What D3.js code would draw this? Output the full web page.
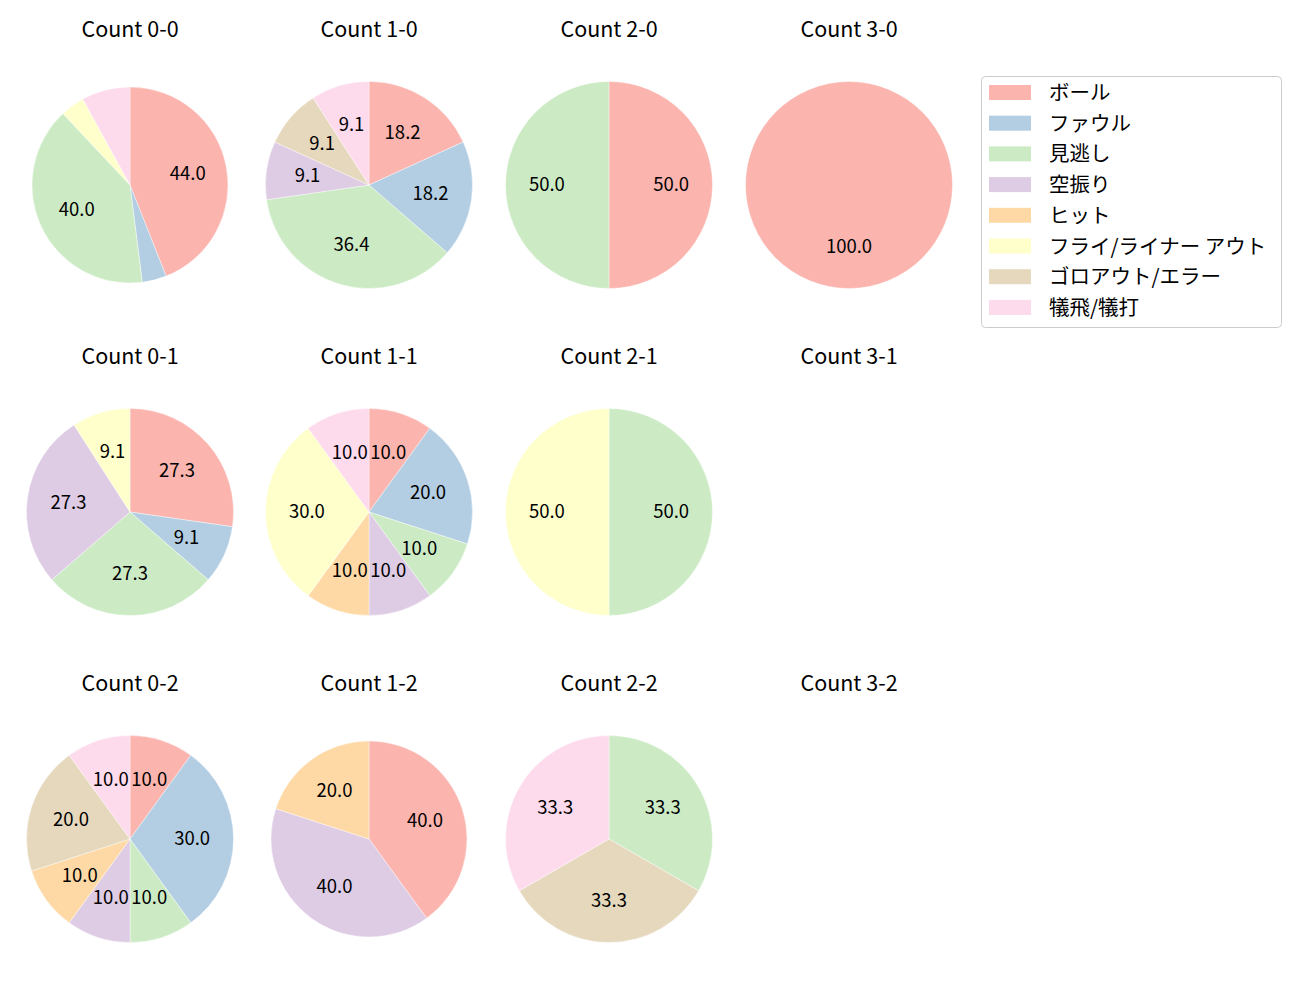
<!DOCTYPE html>
<html>
<head>
<meta charset="utf-8">
<script src="https://cdn.jsdelivr.net/npm/d3@7"></script>
<style>
  body { margin: 0; background: #fff; }
  text { font-family: "Noto Sans CJK JP", "DejaVu Sans", sans-serif; fill: #000; }
</style>
</head>
<body>
<script>
// categories (legend order)
const categories = ["ボール", "ファウル", "見逃し", "空振り", "ヒット", "フライ/ライナー アウト", "ゴロアウト/エラー", "犠飛/犠打"];
const colors = ["#fbb4ae", "#b3cde3", "#ccebc5", "#decbe4", "#fed9a6", "#ffffcc", "#e5d8bd", "#fddaec"];

// counts per category for each ball-strike count
const count00 = [11, 1, 10, 0, 0, 1, 0, 2];
const count10 = [2, 2, 4, 1, 0, 0, 1, 1];
const count20 = [1, 0, 1, 0, 0, 0, 0, 0];
const count30 = [1, 0, 0, 0, 0, 0, 0, 0];
const count01 = [3, 1, 3, 3, 0, 1, 0, 0];
const count11 = [1, 2, 1, 1, 1, 3, 0, 1];
const count21 = [0, 0, 1, 0, 0, 1, 0, 0];
const count31 = [];
const count02 = [1, 3, 1, 1, 1, 0, 2, 1];
const count12 = [2, 0, 0, 2, 1, 0, 0, 0];
const count22 = [0, 0, 1, 0, 0, 0, 1, 1];
const count32 = [];

const panelTitles = [
    "Count 0-0", "Count 1-0", "Count 2-0", "Count 3-0",
    "Count 0-1", "Count 1-1", "Count 2-1", "Count 3-1",
    "Count 0-2", "Count 1-2", "Count 2-2", "Count 3-2"
];
const panelValues = [
    count00, count10, count20, count30,
    count01, count11, count21, count31,
    count02, count12, count22, count32
];

// layout
const width = 1300, height = 1000;
const colX = [130, 369, 609, 849];
const rowY = [185, 512, 839];
const titleOffset = 158;
const bigR = 103.5, smallR = 98;
const smallPanels = ["Count 0-0", "Count 1-2"];

const svg = d3.select("body").append("svg")
    .attr("width", width)
    .attr("height", height);

const pie = d3.pie()
    .sort(null)
    .startAngle(0)
    .endAngle(2 * Math.PI)
    .value(d => d.value);

panelTitles.forEach((title, i) => {
    const cx = colX[i % 4];
    const cy = rowY[Math.floor(i / 4)];
    const r = smallPanels.includes(title) ? smallR : bigR;
    const g = svg.append("g").attr("transform", `translate(${cx},${cy})`);

    g.append("text")
        .attr("x", 0)
        .attr("y", -titleOffset)
        .attr("text-anchor", "middle")
        .attr("dominant-baseline", "central")
        .style("font-size", "21.5px")
        .text(title);

    const vals = panelValues[i];
    if (!vals.length) return;
    const total = d3.sum(vals);
    const data = vals.map((v, k) => ({ value: v, k: k })).filter(d => d.value > 0);

    const arc = d3.arc().innerRadius(0).outerRadius(r);
    const labelArc = d3.arc().innerRadius(r * 0.6).outerRadius(r * 0.6);
    const arcs = pie(data);

    g.selectAll("path")
        .data(arcs)
        .enter()
        .append("path")
        .attr("d", arc)
        .attr("fill", d => colors[d.data.k])
        .attr("stroke", "#fff")
        .attr("stroke-width", 0.4);

    g.selectAll("text.pct")
        .data(arcs.filter(d => d.data.value / total * 100 >= 9))
        .enter()
        .append("text")
        .attr("class", "pct")
        .attr("transform", d => {
            const c = labelArc.centroid(d);
            return `translate(${c[0]},${c[1] - 2})`;
        })
        .attr("text-anchor", "middle")
        .attr("dominant-baseline", "central")
        .style("font-size", "18.5px")
        .text(d => (d.data.value / total * 100).toFixed(1));
});

//legend
const legend = svg.append("g").attr("transform", "translate(981,76)");
legend.append("rect")
    .attr("x", 0.5)
    .attr("y", 0.5)
    .attr("width", 300)
    .attr("height", 251)
    .attr("rx", 4)
    .attr("fill", "#fff")
    .attr("fill-opacity", 0.8)
    .attr("stroke", "#cccccc");

categories.forEach((c, k) => {
    const y = 16.5 + k * 30.7;
    legend.append("rect")
        .attr("x", 8)
        .attr("y", y - 7.5)
        .attr("width", 42)
        .attr("height", 15)
        .attr("fill", colors[k]);
    legend.append("text")
        .attr("x", 68)
        .attr("y", y - 1.5)
        .attr("dominant-baseline", "central")
        .style("font-size", "20.5px")
        .text(c);
});
</script>
</body>
</html>
